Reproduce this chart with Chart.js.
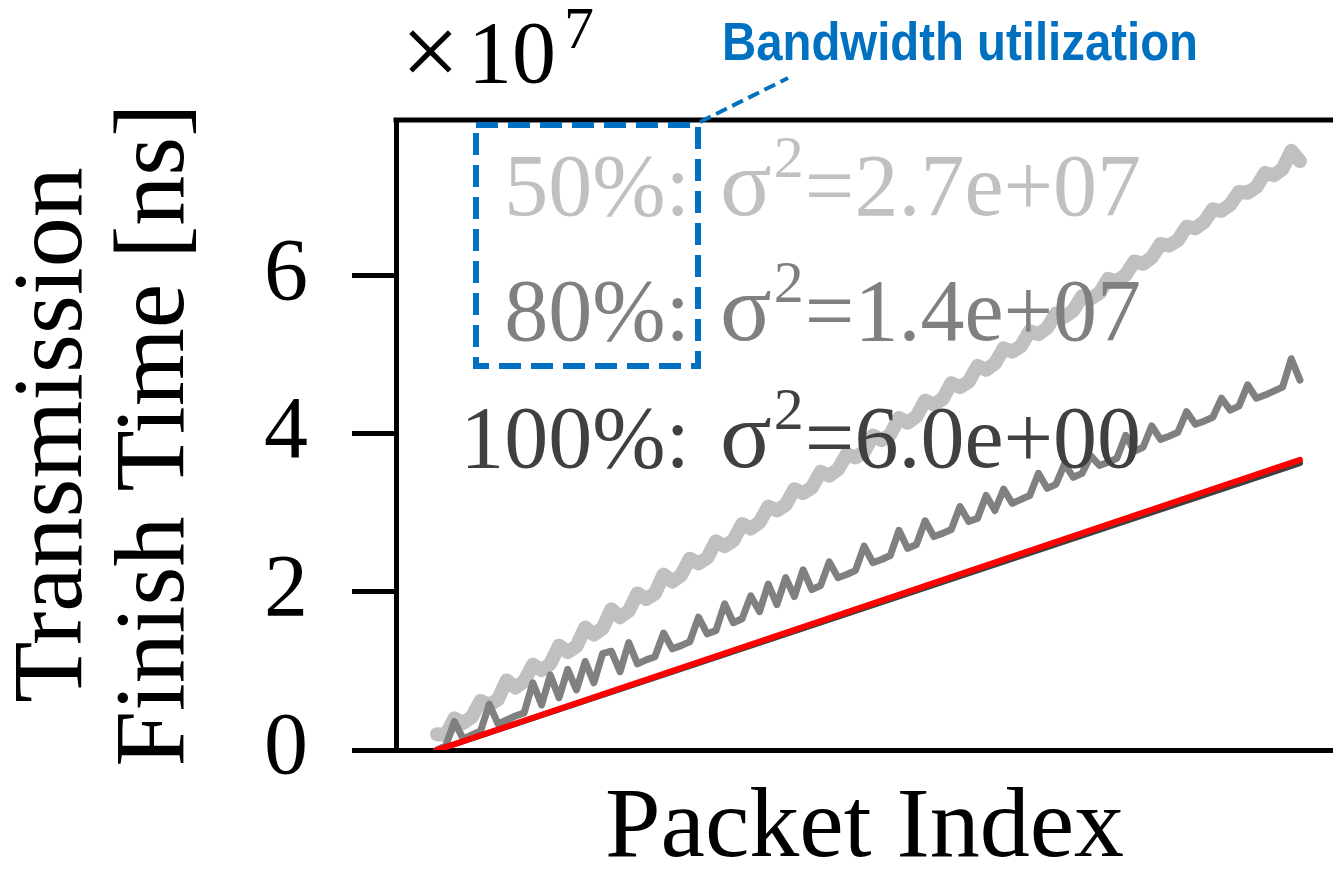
<!DOCTYPE html>
<html>
<head>
<meta charset="utf-8">
<script src="https://cdn.jsdelivr.net/npm/chart.js@4.4.1/dist/chart.umd.min.js"></script>
<style>
  html, body { margin: 0; padding: 0; background: #fff; overflow: hidden; }
  canvas { display: block; }
</style>
</head>
<body>
<canvas id="myChart" width="1333" height="874"></canvas>
<script>
// packet index (x) and finish times in units of 1e7 ns
const packetIndex = [0,1,2,3,4,5,6,7,8,9,10,11,12,13,14,15,16,17,18,19,
  20,21,22,23,24,25,26,27,28,29,30,31,32,33,34,35,36,37,38,39,
  40,41,42,43,44,45,46,47,48,49,50,51,52,53,54,55,56,57,58,59,
  60,61,62,63,64,65,66,67,68,69,70,71,72,73,74,75,76,77,78,79,
  80,81,82,83,84,85,86,87,88,89,90,91,92,93,94,95,96,97,98,99];

// 50% bandwidth utilization
const util50 = [0.20,0.19,0.40,0.34,0.42,0.62,0.57,0.64,0.88,0.79,
  0.87,1.08,1.01,1.09,1.32,1.24,1.31,1.55,1.46,1.54,
  1.78,1.68,1.76,1.98,1.91,1.98,2.22,2.13,2.21,2.42,
  2.36,2.43,2.64,2.58,2.65,2.86,2.80,2.88,3.08,3.03,
  3.10,3.30,3.25,3.32,3.52,3.47,3.55,3.74,3.70,3.77,
  3.98,3.92,3.99,4.20,4.14,4.22,4.42,4.37,4.44,4.64,
  4.59,4.66,4.86,4.81,4.89,5.08,5.04,5.11,5.30,5.26,
  5.34,5.52,5.48,5.56,5.74,5.71,5.78,5.96,5.93,6.01,
  6.18,6.15,6.23,6.40,6.38,6.45,6.62,6.60,6.68,6.84,
  6.82,6.90,7.06,7.05,7.12,7.30,7.27,7.35,7.58,7.45];

// 80% bandwidth utilization
const util80 = [0.00,0.05,0.36,0.14,0.19,0.24,0.58,0.33,0.38,0.43,
  0.47,0.85,0.57,0.95,0.66,1.02,0.76,1.12,0.85,1.22,
  1.25,0.99,1.36,1.09,1.14,1.18,1.48,1.28,1.32,1.37,
  1.68,1.47,1.51,1.85,1.61,1.66,1.95,1.75,2.10,1.84,
  2.18,1.94,2.28,2.03,2.08,2.38,2.18,2.22,2.27,2.58,
  2.37,2.41,2.46,2.78,2.55,2.60,2.90,2.70,2.74,2.79,
  3.08,2.89,2.93,3.22,3.03,3.30,3.12,3.17,3.22,3.50,
  3.31,3.36,3.62,3.45,3.50,3.72,3.60,3.64,3.69,3.98,
  3.78,3.83,4.10,3.93,3.97,4.02,4.28,4.12,4.16,4.21,
  4.45,4.30,4.35,4.62,4.45,4.49,4.54,4.59,4.95,4.68];

// 100% bandwidth utilization (straight) and the ideal line
const util100X = [0, 99];
const util100 = [0, 3.63];
const idealX = [0, 99];
const ideal = [0, 3.67];

const yTicks = [0, 2, 4, 6];

const toPoints = (xs, ys) => ys.map((y, i) => ({x: xs[i], y: y}));

Chart.defaults.font.family = "'Liberation Serif', 'Times New Roman', serif";
Chart.defaults.color = '#000';

// top spine, labels and the blue annotation
const annotate = {
  id: 'annotate',
  afterDraw(chart) {
    const ctx = chart.ctx;
    const area = chart.chartArea;
    ctx.save();
    // top spine
    ctx.strokeStyle = '#000';
    ctx.lineWidth = 5;
    ctx.beginPath();
    ctx.moveTo(area.left - 2.5, area.top);
    ctx.lineTo(chart.width, area.top);
    ctx.stroke();

    // x10^7
    ctx.fillStyle = '#000';
    ctx.textBaseline = 'alphabetic';
    ctx.textAlign = 'left';
    ctx.font = "104px 'Liberation Serif'";
    ctx.fillText('\u00d7', 401, 86);
    ctx.font = "88px 'Liberation Serif'";
    ctx.fillText('10', 468, 82);
    const w10 = ctx.measureText('10').width;
    ctx.font = "60px 'Liberation Serif'";
    ctx.fillText('7', 468 + w10 + 8, 48);

    // variance labels
    const rows = [
      {pct: '50%:', val: '=2.7e+07', color: '#c0c0c0', y: 215},
      {pct: '80%:', val: '=1.4e+07', color: '#808080', y: 340},
      {pct: '100%:', val: '=6.0e+00', color: '#404040', y: 467}
    ];
    rows.forEach(r => {
      ctx.fillStyle = r.color;
      ctx.font = "88px 'Liberation Serif'";
      ctx.textAlign = 'right';
      ctx.fillText(r.pct, 690, r.y);
      ctx.textAlign = 'left';
      let x = 720;
      ctx.font = "96px 'Liberation Serif'";
      ctx.fillText('\u03c3', x, r.y);
      x += ctx.measureText('\u03c3').width + 2;
      ctx.font = "60px 'Liberation Serif'";
      ctx.fillText('2', x, r.y - 38);
      x += ctx.measureText('2').width + 1;
      ctx.font = "88px 'Liberation Serif'";
      ctx.fillText(r.val, x, r.y);
    });

    // blue dashed box + leader
    ctx.strokeStyle = '#0070c0';
    ctx.lineWidth = 6;
    ctx.setLineDash([22, 10]);
    ctx.strokeRect(476, 125, 222, 241);
    ctx.lineWidth = 4;
    ctx.setLineDash([12, 6]);
    ctx.beginPath();
    ctx.moveTo(700, 122);
    ctx.lineTo(788, 78);
    ctx.stroke();
    ctx.setLineDash([]);
    ctx.fillStyle = '#0070c0';
    ctx.font = "bold 54px 'Liberation Sans'";
    ctx.fillText('Bandwidth utilization', 722, 60, 476);
    ctx.restore();
  }
};

const ctx = document.getElementById('myChart').getContext('2d');
const myChart = new Chart(ctx, {
  type: 'line',
  data: {
    datasets: [
      {
        label: '50%',
        data: toPoints(packetIndex, util50),
        borderColor: '#c0c0c0',
        borderWidth: 14,
        order: 4
      },
      {
        label: '80%',
        data: toPoints(packetIndex, util80),
        borderColor: '#808080',
        borderWidth: 7,
        order: 3
      },
      {
        label: '100%',
        data: toPoints(util100X, util100),
        borderColor: '#404040',
        borderWidth: 6,
        order: 2
      },
      {
        label: 'ideal',
        data: toPoints(idealX, ideal),
        borderColor: '#ff0000',
        borderWidth: 6,
        order: 1
      }
    ]
  },
  options: {
    responsive: false,
    animation: false,
    devicePixelRatio: 1,
    elements: {
      point: { radius: 0 },
      line: { tension: 0, borderJoinStyle: 'round', borderCapStyle: 'round' }
    },
    layout: { padding: { left: 0, right: 0, top: 120, bottom: 0 } },
    plugins: {
      legend: { display: false },
      tooltip: { enabled: false }
    },
    scales: {
      x: {
        type: 'linear',
        min: -4.7,
        max: 102.79,
        afterFit: (scale) => { scale.height = 124; },
        ticks: { display: false },
        grid: { drawOnChartArea: false, drawTicks: false },
        border: { display: true, width: 5, color: '#000' },
        title: {
          display: true,
          text: 'Packet Index',
          color: '#000',
          font: { size: 100, lineHeight: 0.88 },
          padding: 0
        }
      },
      y: {
        min: 0,
        max: 7.97,
        afterFit: (scale) => { scale.width = 396; },
        afterBuildTicks: (scale) => { scale.ticks = yTicks.map(v => ({value: v})); },
        ticks: {
          stepSize: 2,
          includeBounds: false,
          padding: 44,
          color: '#000',
          font: { size: 88 }
        },
        grid: {
          drawOnChartArea: false,
          drawTicks: true,
          tickLength: 44,
          tickWidth: 5,
          tickColor: '#000'
        },
        border: { display: true, width: 5, color: '#000' },
        title: {
          display: true,
          text: ['Transmission', 'Finish Time [ns]'],
          color: '#000',
          font: { size: 100, lineHeight: 1.02 },
          padding: { top: 4, bottom: 0 }
        }
      }
    }
  },
  plugins: [annotate]
});
</script>
</body>
</html>
